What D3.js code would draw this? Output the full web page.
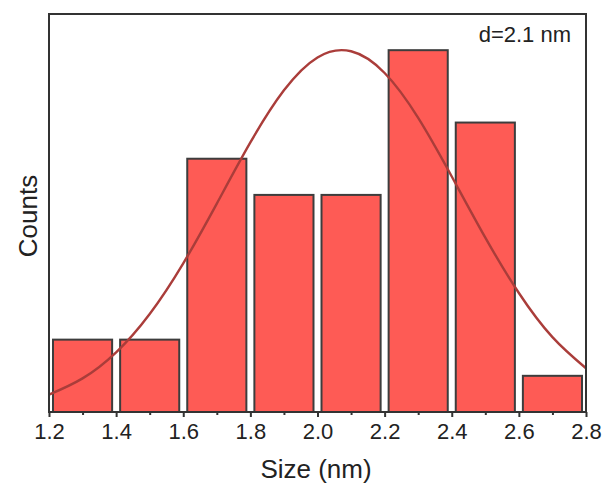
<!DOCTYPE html>
<html>
<head>
<meta charset="utf-8">
<script src="https://cdn.jsdelivr.net/npm/d3@7"></script>
<style>
  body { margin: 0; background: #fff; }
  svg { display: block; font-family: "Liberation Sans", Arial, sans-serif; }
</style>
</head>
<body>
<div id="chart"></div>
<script>
  // histogram bins (nm) and counts
  const binStarts = [1.2, 1.4, 1.6, 1.8, 2.0, 2.2, 2.4, 2.6]
  const binWidth = 0.2
  const counts = [2, 2, 7, 6, 6, 10, 8, 1]

  // gaussian fit curve
  const fitX = [1.2, 1.3, 1.4, 1.5, 1.6, 1.7, 1.8, 1.9, 2.0, 2.1, 2.2, 2.3, 2.4, 2.5, 2.6, 2.7, 2.8]
  const fitY = [0.48, 0.93, 1.65, 2.71, 4.11, 5.76, 7.45, 8.89, 9.80, 9.97, 9.37, 8.13, 6.51, 4.82, 3.29, 2.07, 1.21]

  const xTicks = [1.2, 1.4, 1.6, 1.8, 2.0, 2.2, 2.4, 2.6, 2.8]
  const xMinorTicks = [1.3, 1.5, 1.7, 1.9, 2.1, 2.3, 2.5, 2.7]

  const width = 604
  const height = 487
  const plotLeft = 49, plotRight = 586, plotTop = 14, plotBottom = 412

  const svg = d3.select('#chart')
    .append('svg')
      .attr('width', width)
      .attr('height', height)

  const xScale = d3.scaleLinear()
    .domain([1.2, 2.8])
    .range([plotLeft, plotRight])

  const yScale = d3.scaleLinear()
    .domain([0, 11])
    .range([plotBottom, plotTop])

  // bars
  svg.append('g')
    .selectAll('rect')
    .data(binStarts)
    .join('rect')
      .attr('x', (d) => xScale(d) + 4)
      .attr('width', (d) => xScale(d + binWidth) - xScale(d) - 8)
      .attr('y', (d, i) => yScale(counts[i]))
      .attr('height', (d, i) => yScale(0) - yScale(counts[i]))
      .attr('fill', '#fe5b55')
      .attr('stroke', '#3d3d3d')
      .attr('stroke-width', 2)

  // fit curve
  svg.append('path')
    .datum(fitX.map((x, i) => [x, fitY[i]]))
    .attr('fill', 'none')
    .attr('stroke', '#aa3d3a')
    .attr('stroke-width', 2.4)
    .attr('d', d3.line()
      .x(d => xScale(d[0]))
      .y(d => yScale(d[1]))
      .curve(d3.curveNatural)
    )

  // frame
  svg.append('rect')
    .attr('x', plotLeft)
    .attr('y', plotTop)
    .attr('width', plotRight - plotLeft)
    .attr('height', plotBottom - plotTop)
    .attr('fill', 'none')
    .attr('stroke', '#333')
    .attr('stroke-width', 2)

  // x axis
  const xAxis = svg.append('g')
    .attr('transform', `translate(0,${plotBottom})`)
    .call(d3.axisBottom(xScale)
      .tickValues(xTicks)
      .tickFormat(d3.format('.1f'))
      .tickSize(5)
      .tickPadding(6)
    )
  xAxis.select('.domain').remove()
  xAxis.selectAll('line').attr('stroke', '#333').attr('stroke-width', 2)
  xAxis.selectAll('text')
    .attr('font-size', 22)
    .attr('font-family', '"Liberation Sans", Arial, sans-serif')
    .attr('fill', '#222')

  const xMinor = svg.append('g')
    .attr('transform', `translate(0,${plotBottom})`)
    .call(d3.axisBottom(xScale).tickValues(xMinorTicks).tickSize(3).tickFormat(''))
  xMinor.select('.domain').remove()
  xMinor.selectAll('line').attr('stroke', '#333').attr('stroke-width', 2)

  // labels
  svg.append('text')
    .attr('x', 316)
    .attr('y', 478)
    .attr('text-anchor', 'middle')
    .attr('font-size', 26)
    .attr('fill', '#222')
    .text('Size (nm)')

  svg.append('text')
    .attr('transform', `translate(37,216) rotate(-90)`)
    .attr('text-anchor', 'middle')
    .attr('font-size', 26)
    .attr('fill', '#222')
    .text('Counts')

  svg.append('text')
    .attr('x', 571)
    .attr('y', 42)
    .attr('text-anchor', 'end')
    .attr('font-size', 22)
    .attr('fill', '#222')
    .text('d=2.1 nm')
</script>
</body>
</html>
